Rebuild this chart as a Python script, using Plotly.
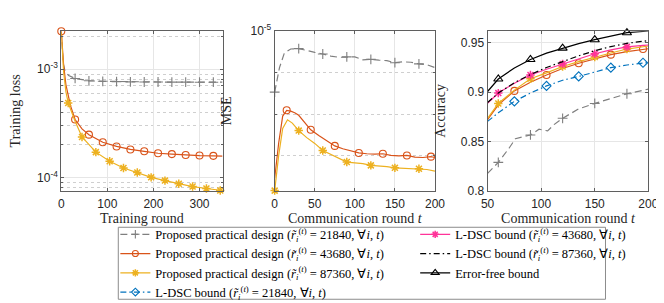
import math
import plotly.graph_objects as go

# ---------------- Data ----------------
# Left panel: training loss vs training round
loss_x_p21840 = [0, 4, 8, 16, 30, 60, 90, 120, 150, 180, 210, 240, 270, 300, 330, 350]
loss_y_p21840 = [2.24e-3, 1.14e-3, 9.6e-4, 8.74e-4, 8.2e-4, 7.8e-4, 7.72e-4, 7.66e-4, 7.63e-4,
                 7.6e-4, 7.6e-4, 7.58e-4, 7.58e-4, 7.57e-4, 7.57e-4, 7.57e-4]
loss_mk_p21840 = [30, 60, 90, 120, 150, 180, 210, 240, 270, 300, 330]

loss_x_p43680 = [0, 5, 10, 20, 30, 45, 60, 90, 120, 150, 180, 210, 240, 270, 300, 330, 350]
loss_y_p43680 = [2.24e-3, 1.1e-3, 7.2e-4, 4.6e-4, 3.42e-4, 2.8e-4, 2.48e-4, 2.11e-4, 1.93e-4, 1.81e-4,
                 1.74e-4, 1.67e-4, 1.64e-4, 1.61e-4, 1.59e-4, 1.58e-4, 1.57e-4]
loss_mk_p43680 = [0, 30, 60, 90, 120, 150, 180, 210, 240, 270, 300, 330]

loss_x_p87360 = [0, 5, 10, 15, 30, 45, 75, 105, 135, 165, 195, 225, 255, 285, 315, 345, 350]
loss_y_p87360 = [2.24e-3, 9.5e-4, 6.2e-4, 4.87e-4, 3.3e-4, 2.36e-4, 1.71e-4, 1.41e-4, 1.22e-4, 1.11e-4,
                 1.0e-4, 9.33e-5, 8.73e-5, 8.22e-5, 7.89e-5, 7.56e-5, 7.54e-5]
loss_mk_p87360 = [15, 45, 75, 105, 135, 165, 195, 225, 255, 285, 315, 345]

# Middle panel: MSE vs communication round
mse_x_p21840 = [0, 6, 12, 20, 30, 40, 50, 60, 70, 80, 90, 100, 110, 120, 130, 140, 150, 160, 170, 180, 190, 200]
mse_y_p21840 = [8.53e-6, 9.12e-6, 9.47e-6, 9.57e-6, 9.58e-6, 9.53e-6, 9.49e-6, 9.45e-6, 9.40e-6, 9.37e-6,
                9.38e-6, 9.38e-6, 9.31e-6, 9.32e-6, 9.30e-6, 9.29e-6, 9.24e-6, 9.26e-6, 9.25e-6, 9.21e-6,
                9.19e-6, 9.12e-6]
mse_mk_p21840 = [0, 30, 60, 90, 120, 150, 180]

mse_x_p43680 = [0, 5, 10, 15, 20, 25, 30, 35, 45, 55, 65, 75, 85, 95, 105, 115, 125, 135, 145, 155,
                165, 175, 185, 195, 200]
mse_y_p43680 = [6.45e-6, 7.3e-6, 7.95e-6, 8.09e-6, 8.07e-6, 8.03e-6, 7.97e-6, 7.85e-6, 7.62e-6, 7.48e-6,
                7.36e-6, 7.23e-6, 7.16e-6, 7.11e-6, 7.06e-6, 7.04e-6, 7.03e-6, 7.04e-6, 7.0e-6, 6.99e-6,
                7.0e-6, 6.96e-6, 6.95e-6, 6.97e-6, 6.95e-6]
mse_mk_p43680 = [15, 45, 75, 105, 135, 165, 195]

mse_x_p87360 = [0, 5, 10, 16, 22, 30, 40, 50, 60, 70, 80, 90, 100, 110, 120, 130, 140, 150, 160, 170,
                180, 190, 200]
mse_y_p87360 = [6.15e-6, 7.0e-6, 7.65e-6, 7.86e-6, 7.78e-6, 7.60e-6, 7.43e-6, 7.29e-6, 7.12e-6, 7.02e-6,
                6.93e-6, 6.84e-6, 6.82e-6, 6.80e-6, 6.76e-6, 6.75e-6, 6.73e-6, 6.70e-6, 6.69e-6, 6.68e-6,
                6.68e-6, 6.66e-6, 6.62e-6]
mse_mk_p87360 = [0, 30, 60, 90, 120, 150, 180]

# Right panel: accuracy vs communication round
acc_x = [50, 60, 75, 90, 105, 120, 135, 150, 165, 180, 195, 200]
acc_x_p21840 = [50, 60, 70, 76, 90, 98, 106, 112, 120, 135, 150, 165, 180, 200]
acc_y_p21840 = [0.8175, 0.8287, 0.843, 0.8527, 0.8565, 0.8623, 0.8606, 0.867, 0.8734, 0.883, 0.8885,
                0.8932, 0.8983, 0.903]
acc_mk_p21840 = [60, 90, 120, 150, 180]
acc_y_p43680 = [0.872, 0.887, 0.9012, 0.910, 0.9174, 0.924, 0.9293, 0.934, 0.938, 0.941, 0.9437, 0.944]
acc_mk_p43680 = [75, 105, 135, 165, 195]
acc_y_p87360 = [0.8734, 0.8885, 0.902, 0.9135, 0.9195, 0.926, 0.931, 0.9356, 0.9397, 0.9437, 0.946, 0.9468]
acc_mk_p87360 = [60, 90, 120, 150, 180]
acc_y_l21840 = [0.8703, 0.879, 0.8906, 0.899, 0.9063, 0.912, 0.9159, 0.9205, 0.9248, 0.9275, 0.9298, 0.930]
acc_mk_l21840 = [75, 105, 135, 165, 195]
acc_y_l43680 = [0.8887, 0.899, 0.909, 0.9174, 0.9232, 0.9286, 0.934, 0.9389, 0.9428, 0.9459, 0.9474, 0.9478]
acc_mk_l43680 = [60, 90, 120, 150, 180]
acc_y_l87360 = [0.8894, 0.899, 0.9095, 0.9178, 0.925, 0.931, 0.9368, 0.942, 0.9462, 0.9495, 0.9517, 0.9523]
acc_y_ef = [0.9006, 0.9133, 0.9245, 0.9331, 0.9395, 0.9446, 0.9492, 0.9532, 0.957, 0.9603, 0.9615, 0.962]
acc_mk_ef = [60, 90, 120, 150, 180]

legend_names = {
    "p21840": "Proposed practical design (<i>r̃</i><sub><i>i</i></sub><sup>(<i>t</i>)</sup> = 21840, ∀<i>i</i>, <i>t</i>)",
    "p43680": "Proposed practical design (<i>r̃</i><sub><i>i</i></sub><sup>(<i>t</i>)</sup> = 43680, ∀<i>i</i>, <i>t</i>)",
    "p87360": "Proposed practical design (<i>r̃</i><sub><i>i</i></sub><sup>(<i>t</i>)</sup> = 87360, ∀<i>i</i>, <i>t</i>)",
    "l21840": "L-DSC bound (<i>r̃</i><sub><i>i</i></sub><sup>(<i>t</i>)</sup> = 21840, ∀<i>i</i>, <i>t</i>)",
    "l43680": "L-DSC bound (<i>r̃</i><sub><i>i</i></sub><sup>(<i>t</i>)</sup> = 43680, ∀<i>i</i>, <i>t</i>)",
    "l87360": "L-DSC bound (<i>r̃</i><sub><i>i</i></sub><sup>(<i>t</i>)</sup> = 87360, ∀<i>i</i>, <i>t</i>)",
    "ef": "Error-free bound",
}

# ---------------- Styles ----------------
STY = {
    "p21840": dict(color="#7f7f7f", dash="7px,4px", symbol="cross-thin-open", size=7, mlw=1.1),
    "p43680": dict(color="#D95319", dash="solid", symbol="circle-open", size=7, mlw=1.1),
    "p87360": dict(color="#EDB120", dash="solid", symbol="asterisk-open", size=7, mlw=1.5),
    "l21840": dict(color="#0072BD", dash="6px,3px,1.5px,3px", symbol="diamond-open", size=7, mlw=1.1),
    "l43680": dict(color="#FF3399", dash="solid", symbol="asterisk-open", size=7, mlw=1.5),
    "l87360": dict(color="#000000", dash="6px,3px,1.5px,3px", symbol=None, size=0, mlw=0),
    "ef": dict(color="#000000", dash="solid", symbol="triangle-up-open", size=8, mlw=1.1),
}
LW = 1.2

fig = go.Figure()


def pick(xs, ys, mk):
    return [ys[xs.index(v)] for v in mk]


def add_series(key, xs, ys, mk, xa, ya):
    s = STY[key]
    fig.add_trace(go.Scatter(x=xs, y=ys, mode="lines", xaxis=xa, yaxis=ya, showlegend=False,
                             line=dict(color=s["color"], width=LW, dash=s["dash"]),
                             hoverinfo="skip"))
    if mk and s["symbol"]:
        fig.add_trace(go.Scatter(x=mk, y=pick(xs, ys, mk), mode="markers", xaxis=xa, yaxis=ya,
                                 showlegend=False, cliponaxis=False,
                                 marker=dict(symbol=s["symbol"], size=s["size"], color=s["color"],
                                             line=dict(color=s["color"], width=s["mlw"]))))


# Left
add_series("p21840", loss_x_p21840, loss_y_p21840, loss_mk_p21840, "x", "y")
add_series("p43680", loss_x_p43680, loss_y_p43680, loss_mk_p43680, "x", "y")
add_series("p87360", loss_x_p87360, loss_y_p87360, loss_mk_p87360, "x", "y")
# Middle
add_series("p21840", mse_x_p21840, mse_y_p21840, mse_mk_p21840, "x2", "y2")
add_series("p43680", mse_x_p43680, mse_y_p43680, mse_mk_p43680, "x2", "y2")
add_series("p87360", mse_x_p87360, mse_y_p87360, mse_mk_p87360, "x2", "y2")
# Right
add_series("p21840", acc_x_p21840, acc_y_p21840, acc_mk_p21840, "x3", "y3")
add_series("p43680", acc_x, acc_y_p43680, acc_mk_p43680, "x3", "y3")
add_series("p87360", acc_x, acc_y_p87360, acc_mk_p87360, "x3", "y3")
add_series("l21840", acc_x, acc_y_l21840, acc_mk_l21840, "x3", "y3")
add_series("l43680", acc_x, acc_y_l43680, acc_mk_l43680, "x3", "y3")
add_series("l87360", acc_x, acc_y_l87360, [], "x3", "y3")
add_series("ef", acc_x, acc_y_ef, acc_mk_ef, "x3", "y3")

# Legend entries (two columns -> two legends)
for key, leg in [("p21840", "legend"), ("p43680", "legend"), ("p87360", "legend"), ("l21840", "legend"),
                 ("l43680", "legend2"), ("l87360", "legend2"), ("ef", "legend2")]:
    s = STY[key]
    kw = dict(x=[None], y=[None], name=legend_names[key], legend=leg, xaxis="x", yaxis="y",
              line=dict(color=s["color"], width=LW, dash=s["dash"]))
    if s["symbol"]:
        kw["mode"] = "lines+markers"
        kw["marker"] = dict(symbol=s["symbol"], size=s["size"] - 1, color=s["color"],
                            line=dict(color=s["color"], width=s["mlw"]))
    else:
        kw["mode"] = "lines"
    fig.add_trace(go.Scatter(**kw))

W, H = 664, 303
TICKFONT = dict(family="Liberation Sans, Arial, sans-serif", size=12, color="#262626")
TITLEFONT = dict(family="Liberation Serif, serif", size=14, color="#262626")
LEGFONT = dict(family="Liberation Serif, serif", size=12.5, color="#000000")
AXC = "#5f5f5f"


def axis(**kw):
    d = dict(showline=True, linecolor=AXC, linewidth=1, mirror="ticks", ticks="inside", ticklen=3,
             tickcolor=AXC, showgrid=True, gridcolor="#e6e6e6", gridwidth=1, zeroline=False,
             tickfont=TICKFONT, fixedrange=True)
    d.update(kw)
    return d


ydom = [1 - 183.3 / H, 1 - 15 / H]
minor_dot = dict(showgrid=True, griddash="dot", gridcolor="#cfcfcf", ticks="inside", ticklen=2,
                 tickcolor=AXC)

fig.update_layout(
    width=W, height=H, margin=dict(l=0, r=0, t=0, b=0),
    paper_bgcolor="white", plot_bgcolor="white",
    xaxis=axis(domain=[47.5 / W, 213 / W], range=[0, 350], tickvals=[0, 100, 200, 300],
               ticklabelstandoff=2,
               title=dict(text="Training round", font=TITLEFONT, standoff=0), anchor="y"),
    yaxis=axis(domain=ydom, type="log", range=[math.log10(7.54e-5), math.log10(2.24e-3)],
               tickvals=[1e-4, 1e-3], ticktext=["10<sup>-4</sup>", "10<sup>-3</sup>"],
               minor=dict(tickvals=[8e-5, 9e-5, 2e-4, 3e-4, 4e-4, 5e-4, 6e-4, 7e-4, 8e-4, 9e-4, 2e-3],
                          **minor_dot),
               title=dict(text="Training loss", font=TITLEFONT, standoff=14), anchor="x"),
    xaxis2=axis(domain=[266.5 / W, 431 / W], range=[0, 200], tickvals=[0, 50, 100, 150, 200],
                ticklabelstandoff=2,
                title=dict(text="Communication round <i>t</i>", font=TITLEFONT, standoff=0), anchor="y2"),
    yaxis2=axis(domain=ydom, range=[6.15e-6, 1e-5], tickvals=[1e-5], ticktext=["10<sup>-5</sup>"],
                minor=dict(tickvals=[7e-6, 8e-6, 9e-6], **minor_dot),
                title=dict(text="MSE", font=TITLEFONT, standoff=15), anchor="x2"),
    xaxis3=axis(domain=[485 / W, 650 / W], range=[50, 200], tickvals=[50, 100, 150, 200],
                ticklabelstandoff=2,
                title=dict(text="Communication round <i>t</i>", font=TITLEFONT, standoff=0), anchor="y3"),
    yaxis3=axis(domain=ydom, range=[0.8, 0.9618], tickvals=[0.8, 0.85, 0.9, 0.95],
                ticktext=["0.8", "0.85", "0.9", "0.95"],
                title=dict(text="Accuracy", font=TITLEFONT, standoff=11), anchor="x3"),
    legend=dict(x=103 / W, y=1 - 214 / H, xanchor="left", yanchor="top", orientation="v",
                bgcolor="rgba(0,0,0,0)", borderwidth=0, itemwidth=30, font=LEGFONT),
    legend2=dict(x=410.7 / W, y=1 - 214 / H, xanchor="left", yanchor="top", orientation="v",
                 bgcolor="rgba(0,0,0,0)", borderwidth=0, itemwidth=30, font=LEGFONT),
    shapes=[dict(type="rect", xref="paper", yref="paper", x0=106 / W, x1=606 / W,
                 y0=1 - 298 / H, y1=1 - 222 / H, line=dict(color="#8c8c8c", width=1),
                 fillcolor="rgba(0,0,0,0)", layer="below")],
)

fig.write_html("out.html")
